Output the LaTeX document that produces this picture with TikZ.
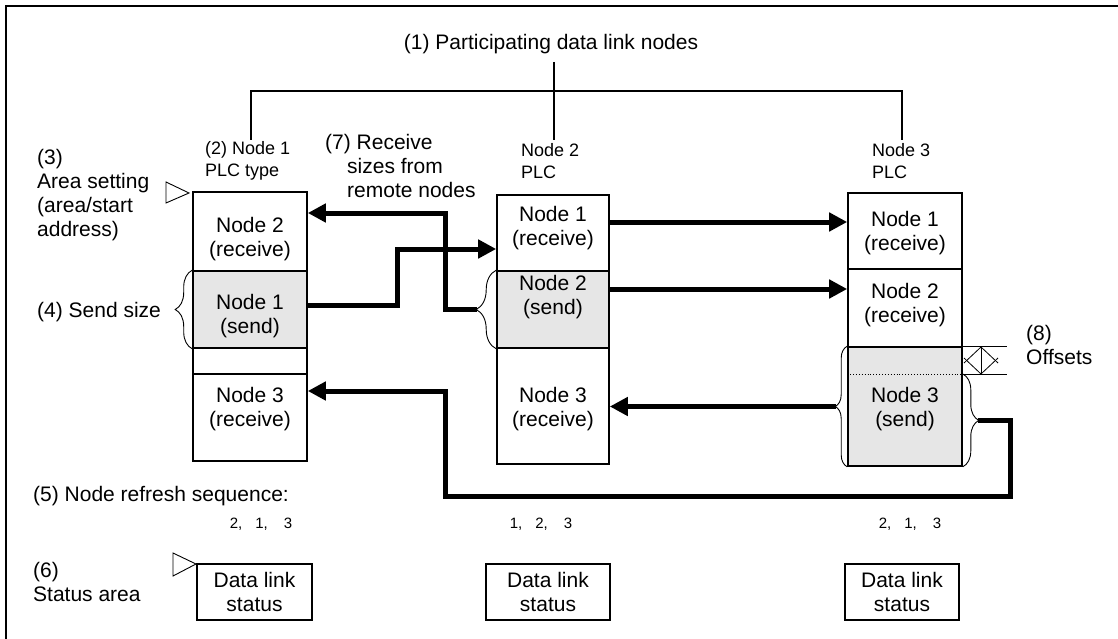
\documentclass[tikz,border=0pt]{standalone}
\usepackage{fontspec}
\setmainfont{Liberation Sans}
\usetikzlibrary{arrows.meta,decorations.pathreplacing}

\definecolor{sendgray}{RGB}{230,230,230}
\newcommand{\txtbig}{\fontsize{21}{24}\selectfont}
\newcommand{\txtsmall}{\fontsize{18}{22}\selectfont}
\newcommand{\txttiny}{\fontsize{15}{18}\selectfont}

\tikzset{
  cell/.style={draw, line width=1.6pt, inner sep=0pt},
  flow/.style={line width=5pt, -{Triangle[length=18pt,width=18pt]}},
  brc/.style={decorate, decoration={brace, amplitude=#1}, line width=0.9pt},
  bar/.style={line width=1.3pt},
  pointer/.style={line width=0.9pt, fill=white, line join=miter},
}

\begin{document}
\begin{tikzpicture}[x=1pt, y=-1pt,
  every node/.style={font=\txtbig, inner sep=0pt, align=center}]
\newcommand{\memcell}[8][]{%
  \node[cell,#1,minimum width=#4,minimum height={#6-#5}] (#2) at (#3,{(#5+#6)/2}) {};
  \node (#2t) at (#3,#7) {#8};}

\useasboundingbox (0,0) rectangle (1118,639);
\draw[line width=2pt] (6,639) -- (6,6) -- (1118,6);

% participating nodes
\node[outer sep=8pt] (part) at (551,44) {(1) Participating data link nodes};
\draw[bar] (251,140) -- (251,91) -- (902,91) -- (902,140);
\draw[bar] (part.south -| 554,0) -- (554,140);

\node[font=\txtsmall, align=left, anchor=west] (plc1) at (205,161) {(2) Node 1\\PLC type};
\node[font=\txtsmall, align=left, anchor=west] (plc2) at (521,161) {Node 2\\PLC};
\node[font=\txtsmall, align=left, anchor=west] (plc3) at (872,161) {Node 3\\PLC};

% left side notes
\node[align=left, anchor=west] (area) at (37,195) {(3)\\Area setting\\(area/start\\address)};
\node[anchor=west] (ssize) at (37,312) {(4) Send size};
\node[anchor=west] (refresh) at (33,496) {(5) Node refresh sequence:};
\node[align=left, anchor=west] (stat) at (33,582) {(6)\\Status area};
\node[align=left, anchor=west] (recv) at (347,166) {\hspace*{-22pt}(7) Receive\\sizes from\\remote nodes};
\node[align=left, anchor=west] (off) at (1026,345) {(8)\\Offsets};

\draw[pointer] (166,182) -- (189,193) -- (166,203) -- cycle;
\draw[pointer] (173,553) -- (196,564) -- (173,576) -- cycle;

% node 1 memory
\memcell{c1a}{250}{114}{192}{271}{239}{Node 2\\(receive)}
\memcell[fill=sendgray]{c1b}{250}{114}{271}{348}{316}{Node 1\\(send)}
\memcell{c1c}{250}{114}{348}{374}{361}{}
\memcell{c1d}{250}{114}{374}{461}{409.5}{Node 3\\(receive)}

% node 2 memory
\memcell{c2a}{553}{112}{195}{271}{228.5}{Node 1\\(receive)}
\memcell[fill=sendgray]{c2b}{553}{112}{271}{348}{297.5}{Node 2\\(send)}
\memcell{c2c}{553}{112}{348}{464}{409.5}{Node 3\\(receive)}

% node 3 memory
\memcell{c3a}{905}{114}{193}{269}{233}{Node 1\\(receive)}
\memcell{c3b}{905}{114}{269}{347}{305}{Node 2\\(receive)}
\memcell[fill=sendgray]{c3c}{905}{114}{347}{466}{409.5}{Node 3\\(send)}
\draw[dotted, line width=0.9pt] (c3c.west |- 0,374) -- (c3c.east |- 0,374);

% offsets
\draw[line width=0.8pt] (c3c.north east) -- ++(44,0);
\draw[line width=0.8pt] (c3c.east |- 0,374) -- ++(44,0);
\draw[line width=0.8pt] (981,347) -- (981,374);
\draw[line width=0.8pt] (964,363) -- (981,347) -- (998,363);
\draw[line width=0.8pt] (964,358) -- (981,374) -- (998,358);

% braces
\draw[brc=17pt] (c1b.south west) -- (c1b.north west);
\draw[brc=20pt] (c2b.south west) -- (c2b.north west);
\draw[brc=12pt] (c3c.south west) -- (c3c.north west);
\draw[brc=16pt] (c3c.east |- 0,374) -- (c3c.south east);
\coordinate (t2) at (477,309.5);
\coordinate (t3l) at (836,406.5);
\coordinate (t3r) at (978,420);

% data flow
\draw[flow] (t2) -| (445,213) -- (c1a.east |- 445,213);
\draw[flow] (c1b.east |- 0,305) -| (397,249) -- (c2a.west |- 0,249);
\draw[flow] (c2a.east |- 0,222) -- (c3a.west |- 0,222);
\draw[flow] (c2b.east |- 0,289) -- (c3b.west |- 0,289);
\draw[flow] (t3l) -- (c2c.east |- t3l);
\draw[flow] (t3r) -| (1010,496) -| (445,391) -- (c1d.east |- 0,391);

% refresh sequence
\node[font=\txttiny] (seq1) at (261,524) {2,\hspace{13pt}1,\hspace{16pt}3};
\node[font=\txttiny] (seq2) at (541,524) {1,\hspace{13pt}2,\hspace{16pt}3};
\node[font=\txttiny] (seq3) at (910,524) {2,\hspace{13pt}1,\hspace{16pt}3};

% status areas
\node[cell, minimum width=115pt, minimum height=56pt] (s1) at (254.5,592) {Data link\\status};
\node[cell, minimum width=124pt, minimum height=56pt] (s2) at (548,592) {Data link\\status};
\node[cell, minimum width=114pt, minimum height=56pt] (s3) at (902,592) {Data link\\status};
\end{tikzpicture}
\end{document}
